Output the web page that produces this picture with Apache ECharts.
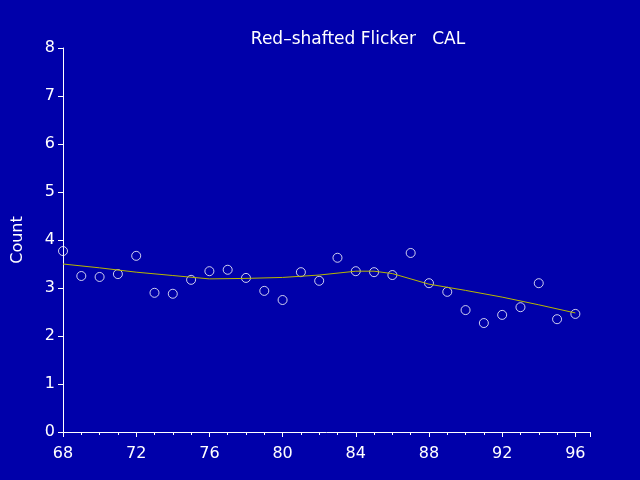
<!DOCTYPE html>
<html>
<head>
<style>
  * { margin: 0; padding: 0; }
  #container { width: 640px; height: 480px; background: #0000aa; }
</style>
</head>
<body>
<div id="container"></div>
<script src="https://cdn.jsdelivr.net/npm/echarts@6/dist/echarts.min.js"></script>
<script>
var years = [68,69,70,71,72,73,74,75,76,77,78,79,80,81,82,83,84,85,86,87,88,89,90,91,92,93,94,95,96];
var counts = [3.77,3.25,3.23,3.29,3.67,2.90,2.88,3.17,3.35,3.38,3.21,2.94,2.75,3.33,3.15,3.63,3.35,3.33,3.27,3.73,3.10,2.92,2.54,2.27,2.44,2.60,3.10,2.35,2.46];
var trendYears = [68,70,72,74,76,78,80,82,84,85,86,88,90,92,94,96];
var trendValues = [3.50,3.42,3.33,3.26,3.19,3.20,3.22,3.27,3.35,3.35,3.30,3.08,2.95,2.81,2.65,2.48];

var chart = echarts.init(document.getElementById('container'));
var font = 'DejaVu Sans';
chart.setOption({
  backgroundColor: '#0000aa',
  animation: false,
  title: {
    text: 'Red\u2013shafted Flicker   CAL',
    left: 353, top: 18, textAlign: 'center',
    textStyle: { color: '#fff', fontFamily: font, fontWeight: 'normal', fontSize: 17 }
  },
  grid: { left: 63, right: 50, top: 48, bottom: 48, containLabel: false, outerBoundsMode: 'none' },
  xAxis: {
    type: 'value', min: 68, max: 96.8, interval: 4,
    name: 'Year', nameLocation: 'middle', nameGap: 28,
    nameTextStyle: { color: '#fff', fontFamily: font, fontSize: 16 },
    axisLine: { lineStyle: { color: '#fff' } },
    axisTick: { lineStyle: { color: '#fff' }, length: 5 },
    axisLabel: { color: '#fff', fontFamily: font, fontSize: 16, margin: 6, showMaxLabel: false },
    minorTick: { show: true, splitNumber: 4, length: 3, lineStyle: { color: '#fff' } },
    splitLine: { show: false }
  },
  yAxis: {
    type: 'value', min: 0, max: 8, interval: 1,
    name: 'Count', nameLocation: 'middle', nameGap: 24,
    nameTextStyle: { color: '#fff', fontFamily: font, fontSize: 16 },
    axisLine: { show: true, lineStyle: { color: '#fff' } },
    axisTick: { show: true, lineStyle: { color: '#fff' }, length: 5 },
    axisLabel: { color: '#fff', fontFamily: font, fontSize: 16, margin: 8 },
    splitLine: { show: false }
  },
  series: [
    {
      type: 'scatter', symbol: 'circle', symbolSize: 9,
      itemStyle: { color: 'transparent', borderColor: '#fff', borderWidth: 1 },
      data: years.map(function (y, i) { return [y, counts[i]]; })
    },
    {
      type: 'line', showSymbol: false,
      lineStyle: { color: '#b8b800', width: 1 },
      data: trendYears.map(function (y, i) { return [y, trendValues[i]]; })
    }
  ]
});
</script>
</body>
</html>
